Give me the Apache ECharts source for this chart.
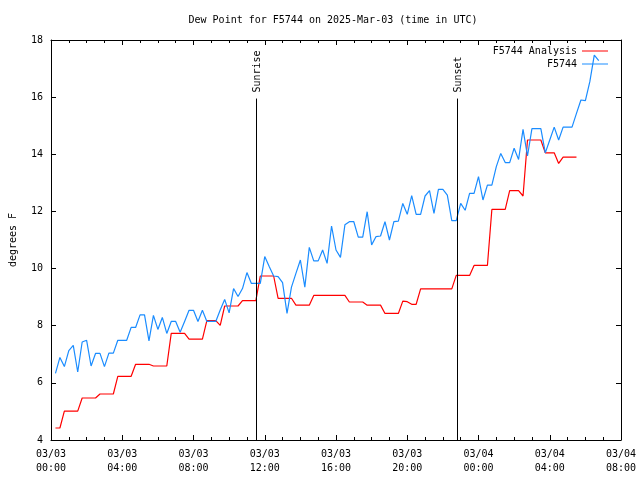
<!DOCTYPE html>
<html><head><meta charset="utf-8">
<script src="https://cdn.jsdelivr.net/npm/echarts@6/dist/echarts.min.js"></script>
<style>html,body{margin:0;padding:0;background:#fff}#c{width:640px;height:480px}</style>
</head><body><div id="c"></div>
<script>
const titleText = 'Dew Point for F5744 on 2025-Mar-03 (time in UTC)';
const yAxisName = 'degrees F';
const seriesNames = ['F5744 Analysis', 'F5744'];
// observations every 15 minutes starting at 00:15 UTC (hours since 03/03 00:00)
const startHour = 0.25;
const stepHours = 0.25;
const analysisValues = [
  4.42, 4.42, 5.01, 5.01, 5.01, 5.01, 5.47, 5.47, 5.47, 5.47,
  5.61, 5.61, 5.61, 5.61, 6.23, 6.23, 6.23, 6.23, 6.65, 6.65,
  6.65, 6.65, 6.59, 6.59, 6.59, 6.59, 7.73, 7.73, 7.73, 7.73,
  7.53, 7.53, 7.53, 7.53, 8.18, 8.18, 8.18, 8.01, 8.69, 8.69,
  8.69, 8.69, 8.88, 8.88, 8.88, 8.88, 9.74, 9.74, 9.74, 9.74,
  8.96, 8.96, 8.96, 8.96, 8.72, 8.72, 8.72, 8.72, 9.06, 9.06,
  9.06, 9.06, 9.06, 9.06, 9.06, 9.06, 8.83, 8.83, 8.83, 8.83,
  8.72, 8.72, 8.72, 8.72, 8.43, 8.43, 8.43, 8.43, 8.86, 8.84,
  8.75, 8.75, 9.29, 9.29, 9.29, 9.29, 9.29, 9.29, 9.29, 9.29,
  9.76, 9.76, 9.76, 9.76, 10.11, 10.11, 10.11, 10.11, 12.07, 12.07,
  12.07, 12.07, 12.73, 12.73, 12.73, 12.54, 14.50, 14.50, 14.50, 14.50,
  14.05, 14.05, 14.05, 13.68, 13.90, 13.90, 13.90, 13.90
];
const observedValues = [
  6.33, 6.89, 6.57, 7.13, 7.31, 6.38, 7.43, 7.49, 6.59, 7.03,
  7.03, 6.57, 7.04, 7.04, 7.49, 7.49, 7.49, 7.94, 7.94, 8.38,
  8.38, 7.47, 8.36, 7.87, 8.29, 7.73, 8.15, 8.15, 7.77, 8.15,
  8.54, 8.54, 8.15, 8.54, 8.15, 8.15, 8.15, 8.55, 8.92, 8.45,
  9.30, 9.02, 9.30, 9.86, 9.48, 9.48, 9.48, 10.42, 10.07, 9.74,
  9.72, 9.51, 8.43, 9.35, 9.83, 10.30, 9.35, 10.74, 10.27, 10.27,
  10.65, 10.18, 11.49, 10.65, 10.39, 11.53, 11.64, 11.64, 11.10, 11.10,
  11.99, 10.83, 11.12, 11.14, 11.64, 11.00, 11.64, 11.66, 12.28, 11.90,
  12.55, 11.90, 11.90, 12.54, 12.73, 11.93, 12.77, 12.77, 12.57, 11.68,
  11.68, 12.28, 12.04, 12.63, 12.63, 13.22, 12.40, 12.92, 12.92, 13.57,
  14.03, 13.71, 13.71, 14.21, 13.82, 14.87, 13.94, 14.90, 14.90, 14.90,
  14.05, 14.50, 14.95, 14.50, 14.95, 14.95, 14.95, 15.43, 15.90, 15.88,
  16.54, 17.47, 17.28
];
const xTickLabels = {
  0: '03/03\n00:00', 4: '03/03\n04:00', 8: '03/03\n08:00', 12: '03/03\n12:00',
  16: '03/03\n16:00', 20: '03/03\n20:00', 24: '03/04\n00:00', 28: '03/04\n04:00', 32: '03/04\n08:00'
};
const sunEvents = [
  { name: 'Sunrise', hour: 11.54 },
  { name: 'Sunset', hour: 22.79 }
];
const sunLineTop = 15.95;

const FONT = 'DejaVu Sans Mono';
const toPairs = vals => vals.map((v, i) => [startHour + i * stepHours, v]);

const chart = echarts.init(document.getElementById('c'), null, { renderer: 'canvas' });

const xAxisBase = {
  type: 'value', min: 0, max: 32, interval: 4,
  axisLine: { show: true, onZero: false, lineStyle: { color: '#000', width: 1 } },
  axisTick: { show: true, inside: true, length: 5, lineStyle: { color: '#000' } },
  minorTick: { show: true, splitNumber: 4, length: 3, lineStyle: { color: '#000' } },
  splitLine: { show: false }
};
const yAxisBase = {
  type: 'value', min: 4, max: 18, interval: 2,
  axisLine: { show: true, onZero: false, lineStyle: { color: '#000', width: 1 } },
  axisTick: { show: true, inside: true, length: 5, lineStyle: { color: '#000' } },
  splitLine: { show: false }
};

chart.setOption({
  animation: false,
  backgroundColor: '#fff',
  title: {
    text: titleText, left: 333, top: 15, textAlign: 'center', padding: 0,
    textStyle: { fontFamily: FONT, fontSize: 10, fontWeight: 'normal', color: '#000' }
  },
  legend: {
    data: seriesNames, orient: 'vertical', align: 'right', right: 27, top: 40,
    itemWidth: 26, itemHeight: 1, itemGap: 1, icon: 'rect',
    textStyle: { fontFamily: FONT, fontSize: 10, color: '#000', lineHeight: 12 }
  },
  grid: { left: 46, right: 19, top: 40, bottom: 40, containLabel: false },
  xAxis: [
    Object.assign({}, xAxisBase, {
      position: 'bottom',
      axisLabel: { show: true, margin: 7, color: '#000', fontFamily: FONT, fontSize: 10, lineHeight: 14,
        formatter: v => xTickLabels[v] || '' }
    }),
    Object.assign({}, xAxisBase, { position: 'top', axisLabel: { show: false } })
  ],
  yAxis: [
    Object.assign({}, yAxisBase, {
      position: 'left', name: yAxisName, nameLocation: 'middle', nameRotate: 90, nameGap: 33,
      nameTextStyle: { fontFamily: FONT, fontSize: 10, color: '#000' },
      axisLabel: { show: true, margin: 8, color: '#000', fontFamily: FONT, fontSize: 10 }
    }),
    Object.assign({}, yAxisBase, { position: 'right', axisLabel: { show: false } })
  ],
  series: [
    {
      name: seriesNames[0], type: 'line', xAxisIndex: 0, yAxisIndex: 0,
      data: toPairs(analysisValues), symbol: 'none', showSymbol: false,
      color: '#ff0000', lineStyle: { color: '#ff0000', width: 1.2 }
    },
    {
      name: seriesNames[1], type: 'line', xAxisIndex: 0, yAxisIndex: 0,
      data: toPairs(observedValues), symbol: 'none', showSymbol: false,
      color: '#1a8cff', lineStyle: { color: '#1a8cff', width: 1.2 },
      markLine: {
        silent: true, symbol: ['none', 'none'], animation: false,
        label: { show: false },
        lineStyle: { color: '#000', width: 1, type: 'solid' },
        data: sunEvents.map(e => [{ coord: [e.hour, 4] }, { coord: [e.hour, sunLineTop] }])
      }
    }
  ]
});

const gfx = sunEvents.map(e => {
  const p = chart.convertToPixel({ gridIndex: 0 }, [e.hour, sunLineTop]);
  return {
    type: 'text', x: p[0] + 1, y: p[1] - 6, rotation: Math.PI / 2,
    style: { text: e.name, font: '10px "' + FONT + '"', fill: '#000', align: 'left', verticalAlign: 'middle' }
  };
});
chart.setOption({ graphic: gfx });
</script>
</body></html>
